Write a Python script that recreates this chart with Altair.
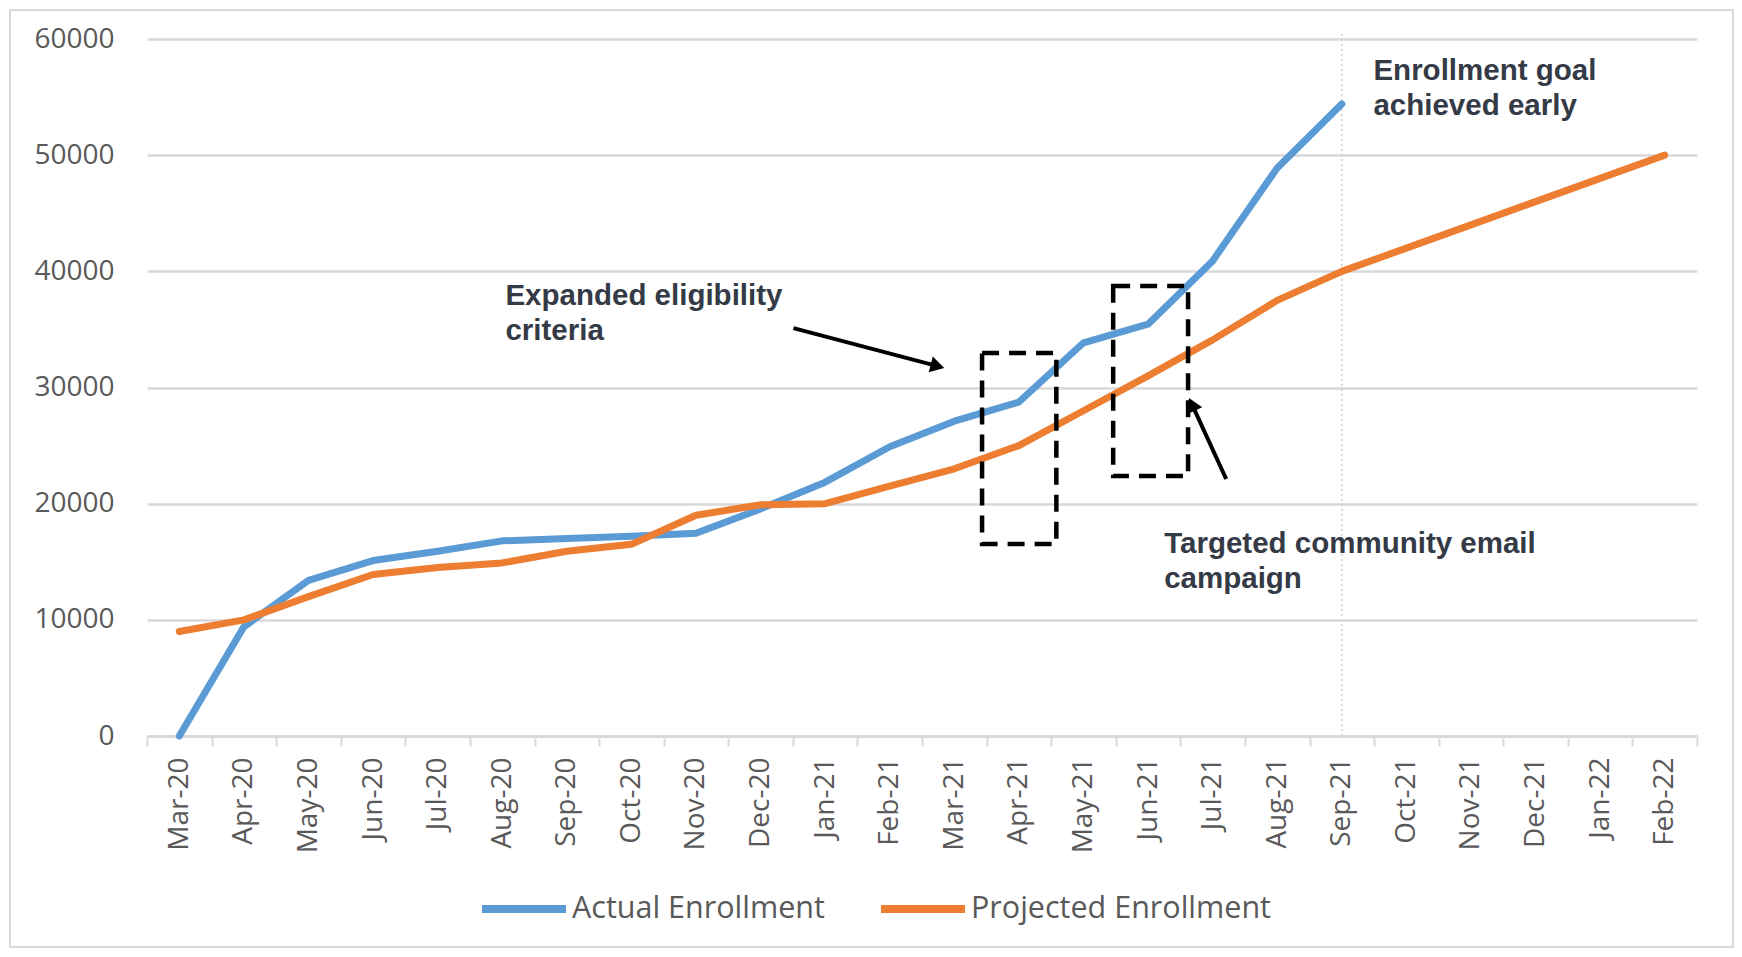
import json
import altair as alt
import pandas as pd

# ---------------- data ----------------
months = ["Mar-20", "Apr-20", "May-20", "Jun-20", "Jul-20", "Aug-20", "Sep-20", "Oct-20",
          "Nov-20", "Dec-20", "Jan-21", "Feb-21", "Mar-21", "Apr-21", "May-21", "Jun-21",
          "Jul-21", "Aug-21", "Sep-21", "Oct-21", "Nov-21", "Dec-21", "Jan-22", "Feb-22"]
actual = [0, 9400, 13400, 15100, 15900, 16800, 17000, 17200, 17450, 19550, 21850, 24900,
          27100, 28750, 33850, 35450, 40900, 48900, 54400]
projected = [9000, 10000, 12000, 13900, 14500, 14900, 15900, 16500, 19000, 19900, 20000,
             21500, 23000, 25000, 28000, 31000, 34100, 37500, 40000, 42000, 44000, 46000,
             48000, 50000]
series_names = ["Actual Enrollment", "Projected Enrollment"]
series_colors = ["#5B9BD5", "#ED7D31"]
y_ticks = [0, 10000, 20000, 30000, 40000, 50000, 60000]

# annotation geometry (x in month-slot units, y in enrollment units)
notes_text = ["Expanded eligibility\ncriteria", "Enrollment goal\nachieved early",
              "Targeted community email\ncampaign"]
notes_x = [5.55, 18.99, 15.75]
notes_y = [37090, 56450, 15750]

box_x1 = [12.93, 14.96]
box_x2 = [14.08, 16.12]
box_y1 = [16520, 22380]
box_y2 = [32960, 38730]

arrow_x1 = [10.01, 16.71]
arrow_y1 = [35110, 22120]
arrow_hx = [12.24, 16.18]
arrow_hy = [31840, 28550]
arrow_angle = [104.7, 335.1]

goal_month = "Sep-21"

# ---------------- frames ----------------
rows = []
for i, v in enumerate(actual):
    rows.append({"x": i + 0.5, "y": v, "series": series_names[0]})
for i, v in enumerate(projected):
    rows.append({"x": i + 0.5, "y": v, "series": series_names[1]})
lines_df = pd.DataFrame(rows)

notes_df = pd.DataFrame({"x": notes_x, "y": notes_y, "label": notes_text})
boxes_df = pd.DataFrame({"x": box_x1, "x2": box_x2, "y": box_y1, "y2": box_y2})
arrows_df = pd.DataFrame({"x": arrow_x1, "y": arrow_y1, "x2": arrow_hx, "y2": arrow_hy,
                          "angle": arrow_angle})
goal_df = pd.DataFrame({"x": [months.index(goal_month) + 0.5], "y": [0], "y2": [60600]})

W, H = 1550, 697
N = len(months)
GRAY = "#595959"
GRID = "#d9d9d9"
AXFONT = "Open Sans"

xscale = alt.Scale(domain=[0, N], nice=False, zero=False)
yscale = alt.Scale(domain=[0, 60000], nice=False)

label_expr = json.dumps(months) + "[datum.value] || ''"
xaxis = alt.Axis(values=list(range(N + 1)), labelExpr=label_expr, labelAngle=-90,
                 labelOffset=W / N / 2, labelFlush=False, labelOverlap=False,
                 labelBound=False, grid=False, title=None,
                 domainColor=GRID, domainWidth=2.5, tickColor=GRID, tickWidth=2,
                 tickSize=10, labelPadding=11, labelFont=AXFONT, labelFontSize=28,
                 labelColor=GRAY)
yaxis = alt.Axis(values=y_ticks, format="d", grid=True, gridColor=GRID, gridWidth=2.5,
                 domain=False, ticks=False, labelPadding=33, labelFont=AXFONT,
                 labelFontSize=28, labelColor=GRAY, title=None)


def X(f="x"):
    return alt.X(f"{f}:Q", scale=xscale, axis=xaxis)


def Y(f="y"):
    return alt.Y(f"{f}:Q", scale=yscale, axis=yaxis)


frame = alt.Chart(pd.DataFrame({"k": [0]})).mark_rect(
    fillOpacity=0, stroke="#d9d9d9", strokeWidth=2
).encode(x=alt.value(-137), x2=alt.value(W + 36), y=alt.value(-29), y2=alt.value(H + 211))

goal_rule = alt.Chart(goal_df).mark_rule(
    color="#cfcfcf", strokeWidth=1.5, strokeDash=[2, 3]
).encode(x=X(), y=Y(), y2="y2:Q")

lines = alt.Chart(lines_df).mark_line(
    strokeWidth=7, strokeCap="round", strokeJoin="round"
).encode(
    x=X(), y=Y(),
    color=alt.Color("series:N",
                    scale=alt.Scale(domain=series_names, range=series_colors),
                    legend=alt.Legend(orient="none", legendX=331, legendY=824,
                                      direction="horizontal", title=None,
                                      symbolType="stroke", symbolSize=7056,
                                      symbolStrokeWidth=8, labelOffset=2,
                                      columnPadding=40, labelFont=AXFONT,
                                      labelFontSize=30.5, labelColor=GRAY,
                                      labelLimit=600)),
)

boxes = alt.Chart(boxes_df).mark_rect(
    fillOpacity=0, stroke="black", strokeWidth=4.5, strokeDash=[17, 10]
).encode(x=X(), x2="x2:Q", y=Y(), y2="y2:Q")

arrow_shafts = alt.Chart(arrows_df).mark_rule(color="black", strokeWidth=4).encode(
    x=X(), y=Y(), x2="x2:Q", y2="y2:Q")

arrow_heads = alt.Chart(arrows_df).mark_point(
    shape="triangle-up", filled=True, size=260, color="black", opacity=1
).encode(x=X("x2"), y=Y("y2"), angle=alt.Angle("angle:Q", scale=None))

notes = alt.Chart(notes_df).mark_text(
    align="left", baseline="alphabetic", font="Liberation Sans", fontWeight="bold",
    fontSize=29.5, color="#343a46", lineBreak="\n", lineHeight=35
).encode(x=X(), y=Y(), text="label:N")

chart = alt.layer(frame, goal_rule, lines, boxes, arrow_shafts, arrow_heads, notes).properties(
    width=W, height=H,
    autosize=alt.AutoSizeParams(type="none"),
    padding={"left": 139, "top": 31, "right": 37, "bottom": 213},
).configure_view(strokeWidth=0)

chart.save("out.html", embed_options={"renderer": "svg", "actions": False})
